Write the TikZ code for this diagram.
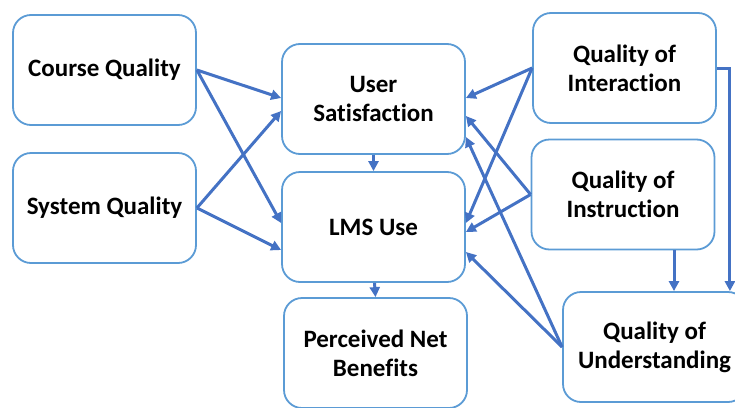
\documentclass[tikz,border=0pt]{standalone}
\usepackage{fontspec}
\setmainfont{Carlito}[Ligatures=NoCommon]
\usetikzlibrary{arrows.meta,calc}
\definecolor{boxblue}{RGB}{91,155,213}
\definecolor{arrblue}{RGB}{68,114,196}
\begin{document}
\begin{tikzpicture}[x=1pt,y=-1pt,
  box/.style={draw=boxblue,line width=1.8pt,rounded corners=18pt,minimum width=183pt,minimum height=110pt,align=center,font=\fontsize{25}{29}\selectfont\bfseries,inner sep=0pt,fill=white},
  arr/.style={draw=arrblue,line width=3pt,-{Triangle[length=10pt,width=10pt]}}]
\useasboundingbox (0,0) rectangle (735,407);
\node[box] (cq) at (104.5,70) {Course Quality};
\node[box] (sq) at (104.5,208) {System Quality};
\node[box] (us) at (373.5,99) {User\\Satisfaction};
\node[box] (lms) at (373.5,227) {LMS Use};
\node[box] (pnb) at (375.5,353) {Perceived Net\\Benefits};
\node[box] (qi) at (624.5,68) {Quality of\\Interaction};
\node[box] (qn) at (623,194.5) {Quality of\\Instruction};
\node[box] (qu) at (654.5,347) {Quality of\\Understanding};
% left inputs
\draw[arr] (cq.east) -- ($(us.west)+(0,-1)$);
\draw[arr] (cq.east) -- ($(lms.west)+(0,-4)$);
\draw[arr] (sq.east) -- ($(us.west)+(0,12)$);
\draw[arr] (sq.east) -- ($(lms.west)+(0,23)$);
% vertical chain
\draw[arr] (us.south) -- (lms.north);
\draw[arr] ($(lms.south)+(1,0)$) -- (pnb.north);
% right inputs
\draw[arr] (qi.west) -- ($(us.east)+(0,-1)$);
\draw[arr] (qi.west) -- ($(lms.east)+(0,-4)$);
\draw[arr] (qn.west) -- ($(us.east)+(0,17)$);
\draw[arr] (qn.west) -- ($(lms.east)+(0,5)$);
\draw[arr] (qu.west) -- ($(us.east)+(0,38)$);
\draw[arr] (qu.west) -- ($(lms.east)+(0,25)$);
% into understanding
\coordinate (a) at ($(qn.south)+(51,0)$);
\draw[arr] (a) -- (a |- qu.north);
\coordinate (k) at ($(qi.east)+(13,0)$);
\draw[arr] (qi.east) -- (k) -- (k |- qu.north);
\end{tikzpicture}
\end{document}
